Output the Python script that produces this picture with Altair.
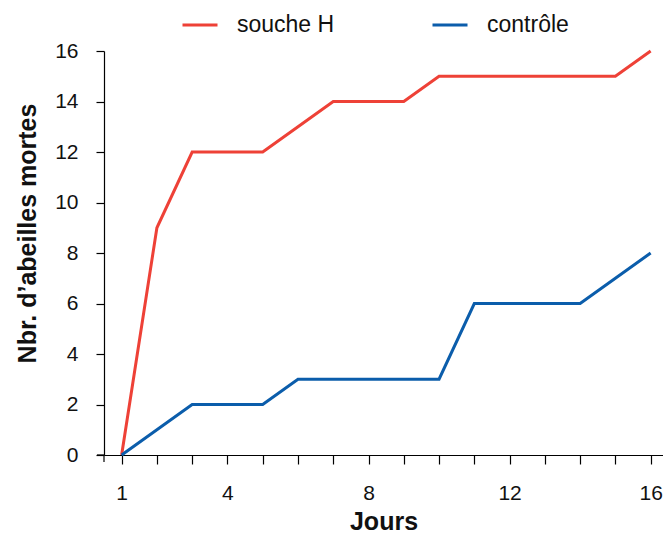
import altair as alt
import pandas as pd

days = list(range(1, 17))
souche_h = [0, 9, 12, 12, 12, 13, 14, 14, 14, 15, 15, 15, 15, 15, 15, 16]
controle = [0, 1, 2, 2, 2, 3, 3, 3, 3, 3, 6, 6, 6, 6, 7, 8]
series = ["souche H", "contrôle"]
colors = ["#EE4137", "#0B5DAB"]
x_labels = [1, 4, 8, 12, 16]
y_ticks = [0, 2, 4, 6, 8, 10, 12, 14, 16]

rows = []
for name, vals in zip(series, [souche_h, controle]):
    for d, v in zip(days, vals):
        rows.append({"Jour": d, "Morts": v, "Série": name})
df = pd.DataFrame(rows)

FONT = "Liberation Sans"
W, H = 559, 404

label_expr = "indexof([" + ",".join(str(v) for v in x_labels) + "], datum.value) >= 0 ? datum.label : ''"

lines = alt.Chart(df).mark_line(strokeWidth=3).encode(
    x=alt.X("Jour:Q",
            scale=alt.Scale(domain=[0.5, 16.35], nice=False, zero=False),
            axis=alt.Axis(title="Jours", values=days, labelExpr=label_expr,
                          grid=False, tickSize=9, labelPadding=18,
                          titleY=74, titleBaseline="alphabetic")),
    y=alt.Y("Morts:Q",
            scale=alt.Scale(domain=[0, 16], nice=False),
            axis=alt.Axis(title="Nbr. d’abeilles mortes", values=y_ticks,
                          grid=False, tickSize=8, labelPadding=18,
                          titleX=-77, titleY=182, titleAngle=-90,
                          titleAlign="center", titleBaseline="middle")),
    color=alt.Color("Série:N",
                    scale=alt.Scale(domain=series, range=colors),
                    legend=alt.Legend(title=None, orient="none", direction="horizontal",
                                      legendX=77, legendY=-45,
                                      symbolType="stroke", symbolSize=1225,
                                      symbolStrokeWidth=3, labelOffset=18,
                                      columnPadding=91, labelFontSize=23,
                                      labelFont=FONT, labelColor="#111")),
)

ext_y = alt.Chart().mark_rule(color="black", strokeWidth=1.2).encode(
    x=alt.value(0), y=alt.value(H), y2=alt.value(H + 7))
ext_x = alt.Chart().mark_rule(color="black", strokeWidth=1.2).encode(
    x=alt.value(-7), x2=alt.value(0), y=alt.value(H))

chart = alt.layer(lines, ext_y, ext_x).properties(
    width=W, height=H,
    autosize=alt.AutoSizeParams(type="none"),
    padding={"left": 96, "top": 43, "right": 0, "bottom": 78},
).configure_view(stroke=None).configure_axis(
    domainColor="black", domainWidth=1.2, tickColor="black", tickWidth=1.2,
    labelFont=FONT, labelFontSize=21, labelColor="#111",
    titleFont=FONT, titleFontSize=25, titleFontWeight="bold", titleColor="#111",
)

chart.save("out.html", embed_options={"renderer": "svg", "actions": False})
